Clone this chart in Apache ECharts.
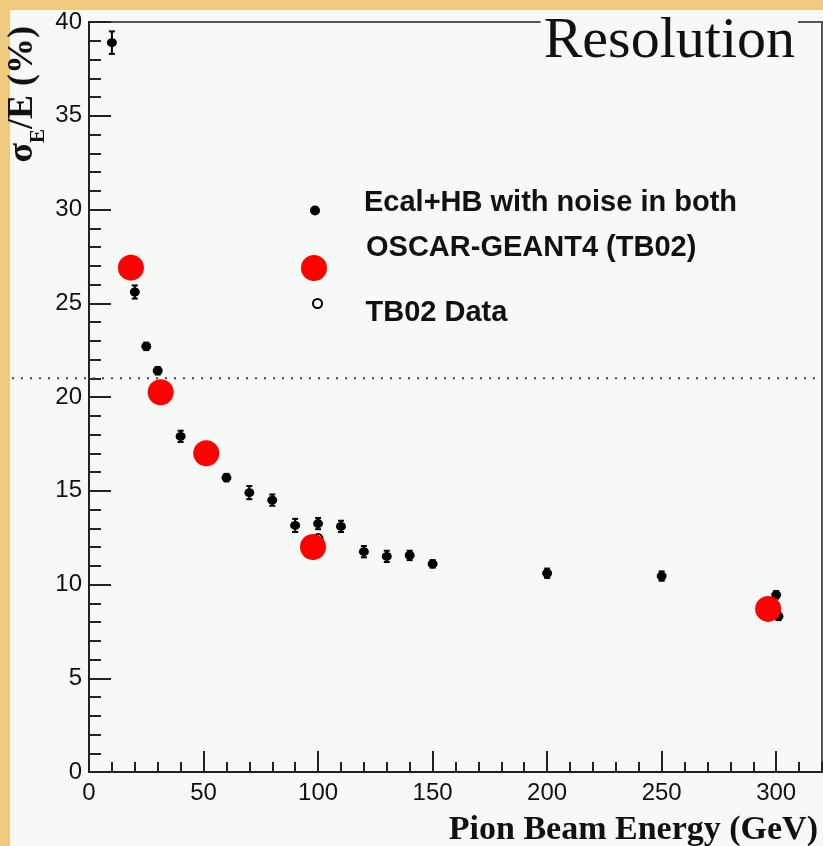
<!DOCTYPE html>
<html>
<head>
<meta charset="utf-8">
<script src="https://cdn.jsdelivr.net/npm/echarts@6/dist/echarts.min.js"></script>
<style>html,body{margin:0;padding:0;background:#EFCA7E;}#c{width:823px;height:846px;}</style>
</head>
<body>
<div id="c"></div>
<script>
// Ecal+HB with noise in both (black points with error bars)
var ecalEnergy = [10, 20, 25, 30, 40, 60, 70, 80, 90, 100, 110, 120, 130, 140, 150, 200, 250, 300, 301];
var ecalRes    = [38.9, 25.6, 22.7, 21.4, 17.9, 15.7, 14.9, 14.5, 13.15, 13.25, 13.1, 11.75, 11.5, 11.55, 11.1, 10.6, 10.45, 9.45, 8.3];
var ecalErr    = [0.6, 0.35, 0.2, 0.2, 0.3, 0.2, 0.35, 0.3, 0.35, 0.3, 0.3, 0.3, 0.3, 0.25, 0.2, 0.25, 0.25, 0.2, 0.2];
// OSCAR-GEANT4 (TB02)
var oscarEnergy = [18.3, 31.3, 51.2, 97.8, 296.5];
var oscarRes    = [26.9, 20.25, 17.0, 12.0, 8.7];
// TB02 Data
var tbEnergy = [100];
var tbRes    = [12.45];
// reference level (dotted line)
var refLevel = [21];
var xTicksMajor = 50, xTicksMinor = 10, yTicks = 5;

var chart = echarts.init(document.getElementById('c'), null, {renderer: 'canvas'});

var ecalPts = ecalEnergy.map(function (e, i) { return [e, ecalRes[i]]; });
var ecalBars = ecalEnergy.map(function (e, i) { return [e, ecalRes[i], ecalRes[i] - ecalErr[i], ecalRes[i] + ecalErr[i]]; });
var oscarPts = oscarEnergy.map(function (e, i) { return [e, oscarRes[i]]; });
var tbPts = tbEnergy.map(function (e, i) { return [e, tbRes[i]]; });
var refPts = refLevel.map(function (v) { return [0, v]; });

var sans = 'Liberation Sans, Arial, sans-serif';
var serif = 'Liberation Serif, Times New Roman, serif';

function legendStyle(pad) {
  return {
    fontFamily: sans, fontWeight: 'bold', fontSize: 29, color: '#111',
    rich: {t: {fontFamily: sans, fontWeight: 'bold', fontSize: 29, color: '#111', padding: pad}}
  };
}

var option = {
  backgroundColor: '#EFCA7E',
  animation: false,
  graphic: [{
    type: 'rect', z: -100, silent: true,
    shape: {x: 10, y: 10, width: 813, height: 836},
    style: {fill: '#F6F9F6'}
  }],
  title: {
    text: 'Resolution',
    right: 25, top: 13,
    padding: [0, 3, 0, 3],
    backgroundColor: '#F6F9F6',
    z: 10,
    textStyle: {fontFamily: serif, fontWeight: 'normal', fontSize: 58, color: '#111'}
  },
  legend: [
    {data: [{name: 'Ecal+HB with noise in both'}], left: 310, top: 188, padding: 0, itemWidth: 88, itemHeight: 10,
     formatter: '{t|{name}}', textStyle: legendStyle([0, 0, 16, 0])},
    {data: [{name: 'OSCAR-GEANT4 (TB02)'}], left: 301, top: 233, padding: 0, itemWidth: 94, itemHeight: 26,
     formatter: '{t|{name}}', textStyle: legendStyle([0, 0, 41, 0])},
    {data: [{name: 'TB02 Data'}], left: 312, top: 298, padding: 0, itemWidth: 86, itemHeight: 9,
     formatter: '{t|{name}}', textStyle: legendStyle([18, 0, 0, 0])}
  ],
  grid: {left: 89, top: 22, right: 1, bottom: 74, outerBoundsMode: 'none', containLabel: false,
         show: true, borderColor: '#555', borderWidth: 2, backgroundColor: 'transparent'},
  xAxis: [{
    type: 'value', min: 0, max: 320, interval: xTicksMajor, position: 'bottom',
    axisLine: {show: true, lineStyle: {color: '#222', width: 2}},
    axisTick: {show: true, inside: true, length: 21, lineStyle: {color: '#222', width: 2}},
    axisLabel: {show: true, showMaxLabel: false, margin: 9, fontFamily: sans, fontSize: 24, color: '#111'},
    splitLine: {show: false},
    name: 'Pion Beam Energy (GeV)', nameLocation: 'end', nameGap: -4,
    nameTextStyle: {fontFamily: serif, fontWeight: 'bold', fontSize: 34, color: '#111', align: 'right', verticalAlign: 'top', padding: [41, 0, 0, 0]}
  }, {
    type: 'value', min: 0, max: 320, interval: xTicksMinor, position: 'bottom',
    axisLine: {show: false},
    axisTick: {show: true, inside: true, length: 10, lineStyle: {color: '#222', width: 2}},
    axisLabel: {show: false},
    splitLine: {show: false}
  }],
  yAxis: {
    type: 'value', min: 0, max: 40, interval: yTicks,
    axisLine: {show: true, lineStyle: {color: '#222', width: 2}},
    axisTick: {show: true, inside: true, length: 22, lineStyle: {color: '#222', width: 2}},
    minorTick: {show: true, splitNumber: 5, length: 12, lineStyle: {color: '#222', width: 2}},
    axisLabel: {margin: 7, fontFamily: sans, fontSize: 24, color: '#111'},
    splitLine: {show: false},
    name: '{s|σ}{sub|E}{s|/E (%)}', nameLocation: 'end', nameRotate: 90, nameGap: -4,
    nameTextStyle: {
      align: 'right', verticalAlign: 'bottom', padding: [0, 0, 40, 0],
      rich: {
        s: {fontFamily: serif, fontWeight: 'bold', fontSize: 36, color: '#111', verticalAlign: 'bottom', padding: [0, 0, 8, 0]},
        sub: {fontFamily: serif, fontWeight: 'bold', fontSize: 21, color: '#111', verticalAlign: 'bottom'}
      }
    }
  },
  series: [{
    type: 'custom', name: 'refline', xAxisIndex: 0, z: 1, clip: false, silent: true,
    data: refPts,
    renderItem: function (params, api) {
      var p = api.coord([api.value(0), api.value(1)]);
      var cs = params.coordSys;
      return {type: 'line', shape: {x1: 12, y1: p[1], x2: cs.x + cs.width, y2: p[1]},
              style: {stroke: '#444', lineWidth: 2, lineDash: [2, 7]}};
    }
  }, {
    type: 'custom', name: 'errbars', xAxisIndex: 0, z: 3,
    data: ecalBars,
    renderItem: function (params, api) {
      var x = api.value(0);
      var lo = api.coord([x, api.value(2)]);
      var hi = api.coord([x, api.value(3)]);
      var st = {stroke: '#000', lineWidth: 2};
      return {type: 'group', children: [
        {type: 'line', shape: {x1: lo[0], y1: lo[1], x2: hi[0], y2: hi[1]}, style: st},
        {type: 'line', shape: {x1: lo[0] - 3, y1: lo[1], x2: lo[0] + 3, y2: lo[1]}, style: st},
        {type: 'line', shape: {x1: hi[0] - 3, y1: hi[1], x2: hi[0] + 3, y2: hi[1]}, style: st}
      ]};
    }
  }, {
    type: 'scatter', name: 'Ecal+HB with noise in both', xAxisIndex: 0, z: 4,
    symbol: 'circle', symbolSize: [10, 9],
    itemStyle: {color: '#000', opacity: 1},
    data: ecalPts
  }, {
    type: 'scatter', name: 'TB02 Data', xAxisIndex: 0, z: 4,
    symbol: 'emptyCircle', symbolSize: 9,
    itemStyle: {color: '#000', borderColor: '#000', borderWidth: 1.5, opacity: 1},
    data: tbPts
  }, {
    type: 'scatter', name: 'OSCAR-GEANT4 (TB02)', xAxisIndex: 0, z: 5,
    symbol: 'circle', symbolSize: 26,
    itemStyle: {color: '#FF0000', opacity: 1},
    data: oscarPts
  }]
};
chart.setOption(option);
</script>
</body>
</html>
